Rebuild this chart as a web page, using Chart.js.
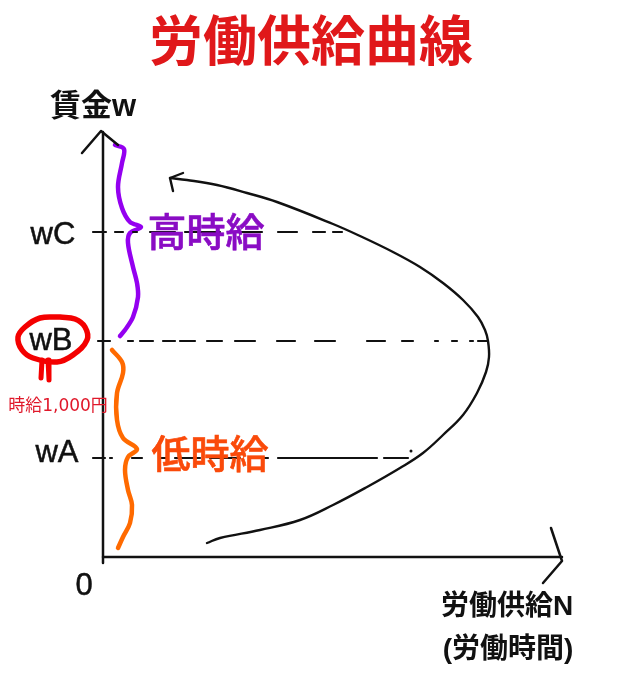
<!DOCTYPE html>
<html lang="ja">
<head>
<meta charset="utf-8">
<title>労働供給曲線</title>
<script src="https://cdn.jsdelivr.net/npm/chart.js@4"></script>
<style>
  html, body { margin: 0; padding: 0; background: #fff; }
  canvas { display: block; }
</style>
</head>
<body>
<canvas id="chart" width="620" height="691"></canvas>
<script>
// ─── Data (N = labour hours, W = wage) ────────────────────────────────────────
const supplyN = [104, 117, 157, 197, 230, 264, 297, 320, 340, 360, 374, 383, 386, 385, 382, 375, 360, 340, 317, 290, 257, 230, 174, 144, 114, 84, 67];
const supplyW = [14, 19, 27, 37, 52, 70, 89, 104, 122, 142, 164, 185, 200, 216, 227, 240, 257, 274, 290, 305, 321, 333, 355, 364, 372, 377, 379];

const supplyHeadN = [80, 67, 70];
const supplyHeadW = [384, 379, 366];

const yAxisN = [0, 0];
const yAxisW = [-6, 425];
const yHeadN = [-21, -2, 15];
const yHeadW = [404, 426, 412];

const xAxisN = [0, 459];
const xAxisW = [0, 0];
const xHeadN = [448, 459, 440];
const xHeadW = [29, -4, -26];

const highBraceN = [12, 21, 19, 15, 19, 27, 38, 27, 25, 30, 34, 35, 30, 22, 17];
const highBraceW = [412, 408, 394, 370, 349, 335, 330, 324, 314, 290, 274, 260, 240, 227, 221];

const lowBraceN = [9, 19, 20, 14, 14, 20, 34, 25, 22, 25, 29, 27, 20, 15];
const lowBraceW = [207, 195, 184, 164, 137, 119, 108, 100, 87, 67, 52, 34, 20, 9];

const circleN = [-43, -63, -78, -85, -81, -70, -46, -30, -16, -18, -28, -43];
const circleW = [240, 239, 230, 220, 207, 199, 195, 202, 217, 230, 238, 240];
const dripLeftN = [-61, -62];
const dripLeftW = [197, 179];
const dripRightN = [-55, -54];
const dripRightW = [197, 177];

const wageC = 325;
const wageB = 216;
const wageA = 99;
const dashesC = [[-10, 3], [12, 20], [30, 34], [47, 72], [82, 117], [127, 159], [175, 194], [210, 222], [230, 239]];
const dashesB = [[-5, 7], [25, 30], [37, 50], [60, 72], [77, 92], [104, 119], [132, 152], [174, 192], [212, 232], [264, 282], [299, 310], [332, 335], [349, 354], [367, 370], [375, 384]];
const dashesA = [[-10, 2], [7, 9], [29, 39], [57, 64], [72, 97], [107, 137], [147, 165], [175, 247], [247, 274], [281, 305]];
const strayDotN = [308];
const strayDotW = [106];

const labelTexts = ['労働供給曲線', '賃金w', 'wC', 'wB', 'wA', '0', '高時給', '低時給', '時給1,000円', '労働供給N', '(労働時間)'];
const labelN = [208, -10, -50, -52, -46, -19, 103, 107, -45, 404, 405];
const labelW = [511, 450, 322, 216, 104, -29, 322, 100, 150, -50, -93];

// ─── Styles ───────────────────────────────────────────────────────────────────
const CJK = '"Liberation Sans", "Noto Sans CJK JP", sans-serif';
const labelFonts = [
  `bold 54px ${CJK}`, `bold 31px ${CJK}`, `31px ${CJK}`, `31px ${CJK}`, `31px ${CJK}`, `31px ${CJK}`,
  `500 39px ${CJK}`, `500 39px ${CJK}`, `17px "DejaVu Sans", "Noto Sans CJK JP"`, `bold 28px ${CJK}`, `bold 28px ${CJK}`,
];
const labelColors = ['#e0181a', '#111', '#111', '#111', '#111', '#111', '#8a0cc4', '#fa4a0a', '#e0182a', '#111', '#111'];
const labelWeights = [0, 0, 0.5, 0.5, 0.5, 0.5, 0.6, 0.6, 0, 0, 0];

// ─── Helpers ──────────────────────────────────────────────────────────────────
function zip(ns, ws) {
  return ns.map((n, i) => ({ x: n, y: ws[i] }));
}

function dashPoints(spans, wage) {
  const pts = [];
  spans.forEach(([a, b]) => {
    pts.push({ x: a, y: wage }, { x: b, y: wage }, { x: b, y: null });
  });
  return pts;
}

function stroke(data, color, width, tension = 0) {
  return {
    data, borderColor: color, borderWidth: width, tension,
    showLine: true, pointRadius: 0, borderCapStyle: 'round', borderJoinStyle: 'round',
    spanGaps: false, fill: false,
  };
}

const textLabels = {
  id: 'textLabels',
  afterDatasetsDraw(chart) {
    const { ctx, scales: { x, y } } = chart;
    ctx.save();
    ctx.textAlign = 'center';
    ctx.textBaseline = 'middle';
    labelTexts.forEach((t, i) => {
      const px = x.getPixelForValue(labelN[i]);
      const py = y.getPixelForValue(labelW[i]);
      ctx.font = labelFonts[i];
      ctx.fillStyle = labelColors[i];
      ctx.fillText(t, px, py);
      if (labelWeights[i]) {
        ctx.strokeStyle = labelColors[i];
        ctx.lineWidth = labelWeights[i];
        ctx.strokeText(t, px, py);
      }
    });
    ctx.restore();
  }
};

// ─── Chart ────────────────────────────────────────────────────────────────────
new Chart(document.getElementById('chart'), {
  type: 'scatter',
  data: {
    datasets: [
      stroke(zip(yAxisN, yAxisW), '#111', 2.5),
      stroke(zip(yHeadN, yHeadW), '#111', 2.5),
      stroke(zip(xAxisN, xAxisW), '#111', 2.5),
      stroke(zip(xHeadN, xHeadW), '#111', 2.5),
      stroke(dashPoints(dashesC, wageC), '#111', 2.2),
      stroke(dashPoints(dashesB, wageB), '#111', 2.2),
      stroke(dashPoints(dashesA, wageA), '#111', 2.2),
      stroke(zip(supplyN, supplyW), '#111', 2.4, 0.4),
      stroke(zip(supplyHeadN, supplyHeadW), '#111', 2.4),
      stroke(zip(highBraceN, highBraceW), '#9400f0', 4.5, 0.35),
      stroke(zip(lowBraceN, lowBraceW), '#ff6a00', 4.5, 0.35),
      stroke(zip(circleN, circleW), '#f40000', 5.5, 0.4),
      stroke(zip(dripLeftN, dripLeftW), '#f40000', 5),
      stroke(zip(dripRightN, dripRightW), '#f40000', 5),
      { data: zip(strayDotN, strayDotW), pointRadius: 1.5, pointBackgroundColor: '#111', pointBorderWidth: 0, showLine: false },
    ]
  },
  options: {
    responsive: false,
    animation: false,
    layout: { padding: 0, autoPadding: false },
    plugins: { legend: { display: false }, tooltip: { enabled: false } },
    scales: {
      x: { type: 'linear', display: false, min: -103, max: 517 },
      y: { type: 'linear', display: false, min: -134, max: 557 },
    }
  },
  plugins: [textLabels]
});
</script>
</body>
</html>
